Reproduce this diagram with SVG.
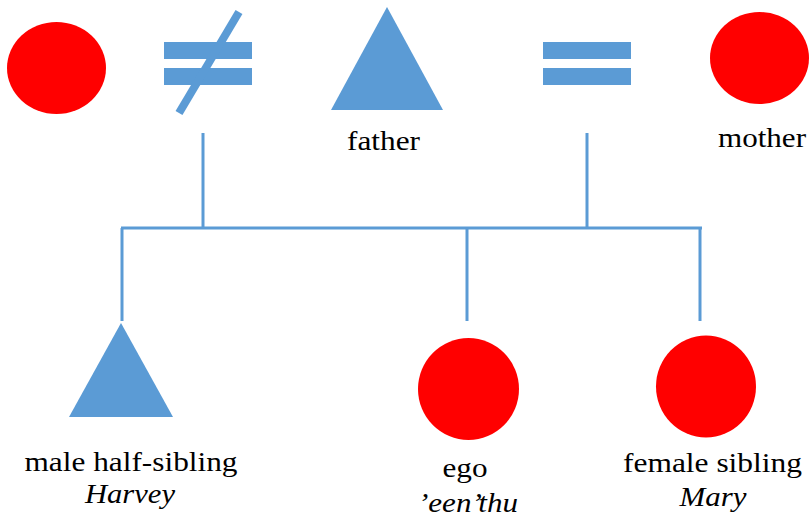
<svg xmlns="http://www.w3.org/2000/svg" width="811" height="518" viewBox="0 0 811 518">
  <style>
    .female { fill: #ff0000; }
    .male { fill: #5b9bd5; }
    .bar { fill: #5b9bd5; }
    .link { stroke: #5b9bd5; stroke-width: 3; fill: none; }
    text { font-family: 'Liberation Serif', 'DejaVu Serif', serif; font-size: 28px; fill: #000; text-anchor: middle; }
    .name { font-style: italic; }
  </style>

  <!-- first wife -->
  <g id="wife1">
    <ellipse class="female" cx="56.5" cy="68" rx="49.5" ry="46"/>
  </g>

  <!-- divorced marriage sign -->
  <g id="divorce">
    <rect class="bar" x="164" y="42" width="88" height="17"/>
    <rect class="bar" x="164" y="68" width="88" height="17"/>
    <line x1="239" y1="12" x2="179" y2="113" stroke="#5b9bd5" stroke-width="8"/>
  </g>

  <!-- father -->
  <g id="father">
    <polygon class="male" points="387,7 331,110 443,110"/>
    <text x="383.5" y="150" textLength="73" lengthAdjust="spacingAndGlyphs">father</text>
  </g>

  <!-- marriage sign -->
  <g id="marriage">
    <rect class="bar" x="543" y="42" width="88" height="17"/>
    <rect class="bar" x="543" y="68" width="88" height="17"/>
  </g>

  <!-- mother -->
  <g id="mother">
    <ellipse class="female" cx="759.5" cy="58" rx="49.5" ry="46"/>
    <text x="762" y="147" textLength="88" lengthAdjust="spacingAndGlyphs">mother</text>
  </g>

  <!-- descent lines -->
  <g id="connectors">
    <line class="link" x1="203" y1="133" x2="203" y2="228"/>
    <line class="link" x1="587" y1="133" x2="587" y2="228"/>
    <line class="link" x1="121" y1="228" x2="702" y2="228"/>
    <line class="link" x1="122" y1="228" x2="122" y2="321"/>
    <line class="link" x1="467" y1="228" x2="467" y2="321"/>
    <line class="link" x1="700" y1="228" x2="700" y2="321"/>
  </g>

  <!-- male half-sibling -->
  <g id="half-sibling">
    <polygon class="male" points="121,323 69,417 173,417"/>
    <text x="131" y="471" textLength="213" lengthAdjust="spacingAndGlyphs">male half-sibling</text>
    <text class="name" x="130" y="503" textLength="90" lengthAdjust="spacingAndGlyphs">Harvey</text>
  </g>

  <!-- ego -->
  <g id="ego">
    <ellipse class="female" cx="468.5" cy="389" rx="50.5" ry="51"/>
    <text x="465" y="477" textLength="45" lengthAdjust="spacingAndGlyphs">ego</text>
    <text class="name" x="468" y="512" textLength="100" lengthAdjust="spacingAndGlyphs">’een’thu</text>
  </g>

  <!-- female sibling -->
  <g id="sibling">
    <ellipse class="female" cx="706" cy="386.5" rx="50" ry="51"/>
    <text x="712.5" y="472" textLength="179" lengthAdjust="spacingAndGlyphs">female sibling</text>
    <text class="name" x="713" y="506" textLength="67" lengthAdjust="spacingAndGlyphs">Mary</text>
  </g>
</svg>
